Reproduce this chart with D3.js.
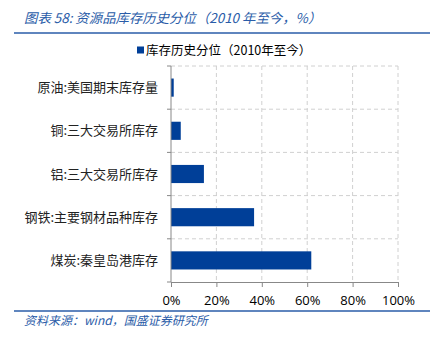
<!DOCTYPE html>
<html>
<head>
<meta charset="utf-8">
<script src="https://cdn.jsdelivr.net/npm/d3@7"></script>
<style>
  html, body { margin: 0; padding: 0; background: #fff; }
  svg { display: block; }
</style>
</head>
<body>
<svg id="chart" width="430" height="341"></svg>
<script>
// Inventory percentile since 2010, by commodity
const categories = [
  "原油:美国期末库存量",
  "铜:三大交易所库存",
  "铝:三大交易所库存",
  "钢铁:主要钢材品种库存",
  "煤炭:秦皇岛港库存"
];
const percentile = [0.012, 0.043, 0.145, 0.366, 0.618];
const xTicks = [0, 0.2, 0.4, 0.6, 0.8, 1.0];

const titleText = "图表 58:  资源品库存历史分位（2010 年至今，%）";
const legendText = "库存历史分位（2010年至今）";
const sourceText = "资料来源：wind，国盛证券研究所";

const blue = "#003F98";
const rule = "#2A5CA8";
const cjk = "'Noto Sans CJK SC', 'Noto Sans', sans-serif";

const svg = d3.select("#chart");

// Header title and rule
svg.append("text")
  .attr("x", 24).attr("y", 23)
  .attr("font-family", cjk).attr("font-size", 13.4).attr("font-style", "italic")
  .attr("fill", rule)
  .text(titleText);
svg.append("line")
  .attr("x1", 14).attr("x2", 430).attr("y1", 33).attr("y2", 33)
  .attr("stroke", rule).attr("stroke-width", 1.5);

// Legend
svg.append("rect")
  .attr("x", 137).attr("y", 46.5).attr("width", 7).attr("height", 7)
  .attr("fill", blue);
svg.append("text")
  .attr("x", 146).attr("y", 54.5)
  .attr("font-family", cjk).attr("font-size", 12.5).attr("fill", "#000")
  .text(legendText);

// Plot area
const plotLeft = 171, plotRight = 398, plotTop = 66, plotBottom = 282;
const x = d3.scaleLinear().domain([0, 1]).range([plotLeft, plotRight]);
const y = d3.scaleBand().domain(categories).range([plotTop, plotBottom]).paddingInner(0.58).paddingOuter(0.29);
const yEdges = d3.scaleLinear().domain([0, categories.length]).range([plotTop, plotBottom]);

// Dashed grid
const grid = svg.append("g").attr("stroke", "#d0d0d0").attr("stroke-dasharray", "4,3").attr("stroke-width", 1);
xTicks.slice(1).forEach(t => {
  grid.append("line").attr("x1", x(t)).attr("x2", x(t)).attr("y1", plotTop).attr("y2", plotBottom);
});
d3.range(0, categories.length).forEach(i => {
  grid.append("line").attr("x1", plotLeft).attr("x2", plotRight).attr("y1", yEdges(i)).attr("y2", yEdges(i));
});

// Bars
svg.append("g").selectAll("rect")
  .data(categories)
  .join("rect")
  .attr("x", x(0))
  .attr("y", d => y(d))
  .attr("width", (d, i) => x(percentile[i]) - x(0))
  .attr("height", y.bandwidth())
  .attr("fill", blue);

// Bottom axis
const xAxis = svg.append("g")
  .attr("transform", `translate(0,${plotBottom})`)
  .call(d3.axisBottom(x).tickValues(xTicks).tickFormat(d3.format(".0%")).tickSize(5).tickPadding(9));
xAxis.select(".domain").attr("stroke", "#888");
xAxis.selectAll(".tick line").attr("stroke", "#888");
xAxis.selectAll("text").attr("font-family", "'Open Sans', 'Noto Sans', sans-serif").attr("font-size", 13).attr("fill", "#000");

// Left axis with ticks at category boundaries
const yAxis = svg.append("g").attr("transform", `translate(${plotLeft},0)`);
yAxis.append("line").attr("x1", 0).attr("x2", 0).attr("y1", plotTop).attr("y2", plotBottom).attr("stroke", "#888");
d3.range(0, categories.length + 1).forEach(i => {
  yAxis.append("line").attr("x1", -4).attr("x2", 0).attr("y1", yEdges(i)).attr("y2", yEdges(i)).attr("stroke", "#888");
});
yAxis.selectAll("text.cat")
  .data(categories)
  .join("text")
  .attr("class", "cat")
  .attr("x", -13)
  .attr("y", d => y(d) + y.bandwidth() / 2)
  .attr("dy", "0.35em")
  .attr("text-anchor", "end")
  .attr("font-family", cjk).attr("font-size", 13).attr("fill", "#222")
  .text(d => d);

// Footer rule and source
svg.append("line")
  .attr("x1", 14).attr("x2", 430).attr("y1", 311).attr("y2", 311)
  .attr("stroke", rule).attr("stroke-width", 1.5);
svg.append("text")
  .attr("x", 24).attr("y", 325)
  .attr("font-family", cjk).attr("font-size", 12).attr("font-style", "italic")
  .attr("fill", rule)
  .text(sourceText);
</script>
</body>
</html>
